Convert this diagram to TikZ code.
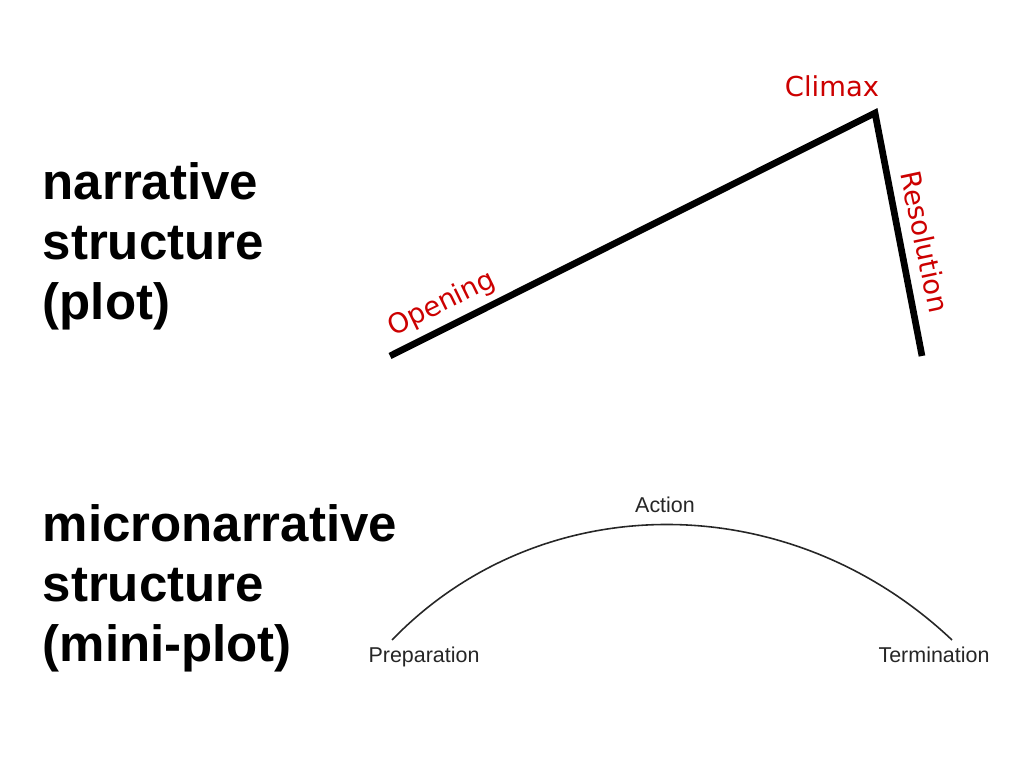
\documentclass[tikz,border=0pt]{standalone}
\usepackage{fontspec}
\setmainfont{Liberation Sans}
\newfontfamily\verdanafont{DejaVu Sans}
\definecolor{plotred}{RGB}{204,0,0}
\begin{document}
\begin{tikzpicture}[
  x=0.01cm, y=-0.01cm,
  heading/.style={anchor=base west, inner sep=0pt, align=left, font=\fontsize{14.5}{17.07}\selectfont\bfseries},
  plotlabel/.style={anchor=base, inner sep=0pt, text=plotred, font=\verdanafont\fontsize{7.8}{9}\selectfont},
  stage/.style={anchor=base, inner sep=0pt, text=black!85, font=\fontsize{6.1}{7}\selectfont},
  plotline/.style={line width=1.9pt},
  arcline/.style={line width=0.45pt, black!85}
]
\useasboundingbox (0,0) rectangle (1024,768);

\node[heading] (narrative) at (42,320) {narrative\\structure\\(plot)};
\node[heading] (micro) at (42,662) {micronarrative\\structure\\(mini-plot)};

\coordinate (opening_end) at (390,356);
\coordinate (climax_pt) at (875,113);
\coordinate (resolution_end) at (922,356);
\draw[plotline] (opening_end) -- (climax_pt) -- (resolution_end);

\node[plotlabel] (climax) at (832,97) {Climax};
\node[plotlabel, rotate=26] (opening) at (445,311) {Opening};
\node[plotlabel, rotate=-78] (resolution) at (915,244) {Resolution};

\coordinate (prep_end) at (392,640);
\coordinate (term_end) at (952,640);
\draw[arcline] (prep_end) .. controls (541,486) and (789,486) .. (term_end);

\node[stage] (preparation) at (424,663) {Preparation};
\node[stage] (action) at (665,513) {Action};
\node[stage] (termination) at (934,663) {Termination};
\end{tikzpicture}
\end{document}
